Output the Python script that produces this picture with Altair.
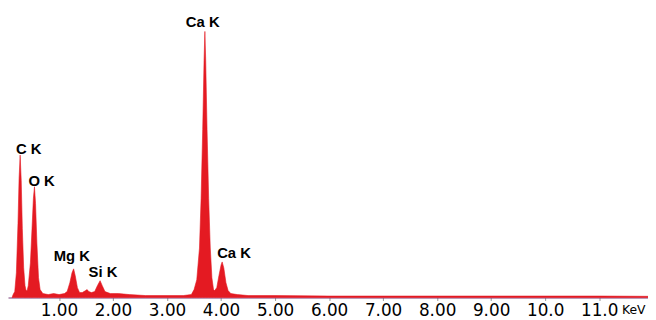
import altair as alt
import pandas as pd

# Spectrum (energy in keV, counts in arbitrary units)
energy_kev = [0.13, 0.15, 0.18, 0.21, 0.24, 0.26, 0.28, 0.30, 0.32, 0.345, 0.37, 0.39, 0.41,
              0.43, 0.47, 0.50, 0.525, 0.545, 0.565, 0.59, 0.62, 0.65, 0.70,
              0.80, 0.90, 1.00, 1.10,
              1.15, 1.20, 1.24, 1.27, 1.30, 1.34, 1.38, 1.43,
              1.49, 1.52, 1.55, 1.60,
              1.66, 1.71, 1.76, 1.80, 1.85, 1.95, 2.10, 2.30, 2.60, 3.00, 3.30, 3.45,
              3.50, 3.55, 3.60, 3.63, 3.66, 3.685, 3.70, 3.715, 3.74, 3.77, 3.80, 3.83, 3.86, 3.88,
              3.92, 3.96, 4.00, 4.02, 4.05, 4.09, 4.13, 4.18, 4.30, 4.50, 5.00,
              6.00, 7.00, 8.00, 9.00, 10.0, 11.0, 11.94]
counts = [0, 3, 6, 25, 75, 120, 144, 118, 70, 30, 12, 7, 7,
          12, 35, 70, 100, 112, 95, 55, 20, 8, 4,
          3, 4, 3, 4,
          6, 15, 25, 29, 22, 10, 5, 5,
          7, 8, 6, 5,
          6, 12, 17, 12, 6, 4, 4, 3, 2, 2, 2, 3,
          8, 18, 50, 100, 170, 240, 269, 240, 170, 100, 50, 20, 8, 7,
          10, 22, 33, 36, 30, 15, 7, 4, 3, 2, 2,
          1.5, 1.5, 1.5, 1.5, 1.5, 1.5, 1.2]

peak_labels = ["C K", "O K", "Mg K", "Si K", "Ca K", "Ca K"]
label_kev = [0.44, 0.678, 1.236, 1.813, 3.66, 4.24]
label_counts = [150, 118, 42, 26, 278, 45]

tick_values = [1, 2, 3, 4, 5, 6, 7, 8, 9, 10, 11]
unit_label = ["KeV"]
unit_kev = [11.64]

spec = pd.DataFrame({"keV": energy_kev, "counts": counts})
labels = pd.DataFrame({"keV": label_kev, "counts": label_counts, "label": peak_labels})
unit = pd.DataFrame({"keV": unit_kev, "t": unit_label})

x_scale = alt.Scale(domain=[0.055, 11.904], nice=False, zero=False)
y_scale = alt.Scale(domain=[0, 291], nice=False, zero=True)

red = "#e41a22"

area = alt.Chart(spec).mark_area(
    color=red, stroke=red, strokeWidth=0.6, interpolate="linear"
).encode(
    x=alt.X("keV:Q", scale=x_scale,
            axis=alt.Axis(values=tick_values, title=None, grid=False,
                          labelExpr="datum.value >= 10 ? format(datum.value, '.1f') : format(datum.value, '.2f')",
                          domainColor="#7a3f7a", domainWidth=1.2,
                          tickColor="#999999", tickSize=3, tickWidth=1,
                          labelFont="DejaVu Sans", labelFontSize=17, labelColor="black",
                          labelPadding=2, labelFlush=False, labelOverlap=False)),
    y=alt.Y("counts:Q", scale=y_scale, axis=None),
)

text = alt.Chart(labels).mark_text(
    font="Liberation Sans", fontSize=15, fontWeight="bold", color="black",
    align="center", baseline="middle"
).encode(
    x=alt.X("keV:Q", scale=x_scale),
    y=alt.Y("counts:Q", scale=y_scale),
    text="label:N",
)

unit_text = alt.Chart(unit).mark_text(
    font="DejaVu Sans", fontSize=12.5, color="black", align="center", baseline="middle"
).encode(
    x=alt.X("keV:Q", scale=x_scale),
    y=alt.value(304),
    text="t:N",
)

chart = alt.layer(area, text, unit_text).properties(
    width=647, height=291,
    padding={"left": 0, "top": 0, "right": 0, "bottom": 20},
    autosize=alt.AutoSizeParams(type="none"),
    background="white",
).configure_view(stroke=None)

chart.save("out.html", embed_options={"renderer": "svg", "actions": False})
